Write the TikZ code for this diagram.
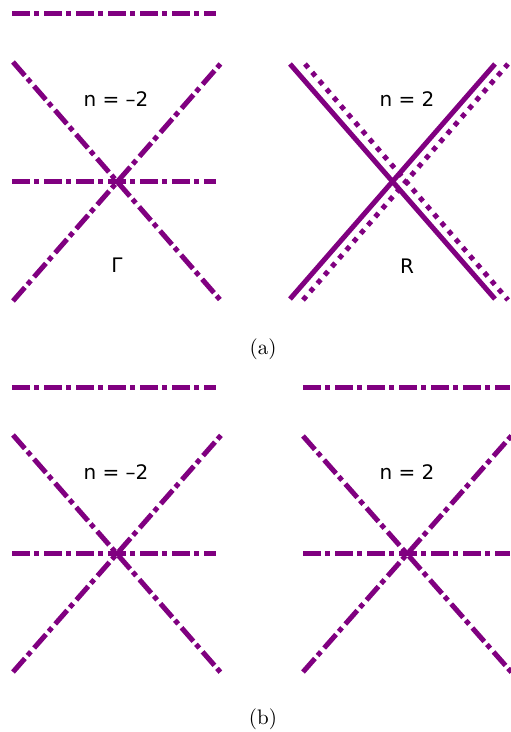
\documentclass[tikz,border=0pt]{standalone}
\usepackage{fontspec}
\newfontfamily\lblfont{DejaVu Sans}
\usetikzlibrary{positioning}
\definecolor{bandpurple}{HTML}{800080}
\tikzset{
  dashdotline/.style={draw=bandpurple, line width=2.5pt, dash pattern=on 9pt off 2pt on 2.5pt off 2.5pt},
  solidline/.style={draw=bandpurple, line width=2.5pt},
  dottedline/.style={draw=bandpurple, line width=2.5pt, dash pattern=on 2.5pt off 3pt},
  lbl/.style={font=\lblfont\fontsize{10}{12}\selectfont, inner sep=0pt},
  captext/.style={font=\fontsize{10.5}{12}\selectfont, inner sep=0pt},
}
\begin{document}
\begin{tikzpicture}[x=0.5pt, y=-0.5pt]
    \useasboundingbox (0,0) rectangle (510,732);
    % (a), left
    \draw[dashdotline] (12,14) -- (216,14);
    \draw[dashdotline] (13,62) -- (222,302);
    \draw[dashdotline] (13,301) -- (223,61);
    \draw[dashdotline] (12,182) -- (216,182);
    \node[lbl] (nGa) at (116,99.5) {n = –2};
    \node[lbl] (gam) at (117,265) {Γ};
    % (a), right
    \draw[solidline] (290,64) -- (495,299);
    \draw[solidline] (290,299) -- (495,64);
    \draw[dottedline] (305,64) -- (508,300);
    \draw[dottedline] (303,300) -- (508,64);
    \node[lbl] (nRa) at (407,99.5) {n = 2};
    \node[lbl] (rr) at (407,266) {R};
    \node[captext] (capa) at (263,349) {(a)};
    % (b), left
    \draw[dashdotline] (12,387) -- (216,387);
    \draw[dashdotline] (13,435) -- (222,674);
    \draw[dashdotline] (13,672) -- (223,433);
    \draw[dashdotline] (12,553) -- (216,553);
    \node[lbl] (nGb) at (116,472) {n = –2};
    % (b), right
    \draw[dashdotline] (303,387) -- (510,387);
    \draw[dashdotline] (303,436) -- (513,674);
    \draw[dashdotline] (303,672) -- (513,434);
    \draw[dashdotline] (303,553) -- (510,553);
    \node[lbl] (nRb) at (407,472) {n = 2};
    \node[captext] (capb) at (263,719) {(b)};
\end{tikzpicture}
\end{document}
